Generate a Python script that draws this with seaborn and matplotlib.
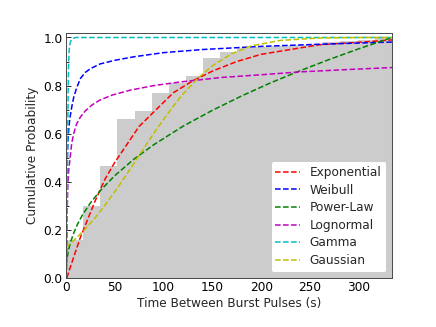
import numpy as np
import pandas as pd
import seaborn as sns
import matplotlib
matplotlib.use('Agg')
import matplotlib.pyplot as plt
from matplotlib.ticker import MultipleLocator

# --- data ---
# cumulative histogram of the observed gaps, 19 equal bins over 0..334 s
x_max = 334.0
n_bins = 19
hist_cdf = [0.159, 0.30, 0.464, 0.659, 0.694, 0.770, 0.81, 0.841, 0.914, 0.941,
            0.955, 0.96, 0.965, 0.97, 0.975, 0.98, 0.985, 0.99, 1.0]

# fitted CDFs
exp_x = [1, 5, 10, 15, 20, 30, 40, 50, 60, 75, 90, 110, 130, 150, 175, 200, 230, 260, 300, 334]
exp_y = [0.0, 0.05, 0.11, 0.17, 0.22, 0.32, 0.41, 0.48, 0.54, 0.63, 0.69, 0.77, 0.82,
         0.86, 0.90, 0.93, 0.95, 0.97, 0.98, 0.99]

weib_x = [0.3, 0.6, 1, 1.5, 2, 3, 4, 6, 8, 11, 15, 20, 25, 35, 50, 70, 100, 140, 200, 260, 334]
weib_y = [0.0, 0.22, 0.40, 0.50, 0.56, 0.62, 0.66, 0.71, 0.75, 0.79, 0.83, 0.855, 0.87,
          0.89, 0.905, 0.92, 0.937, 0.95, 0.963, 0.972, 0.981]

pow_x = [0.5, 1, 2, 3, 5, 8, 12, 17, 25, 35, 50, 70, 90, 120, 150, 180, 210, 240, 270, 300, 334]
pow_y = [0.053, 0.073, 0.10, 0.12, 0.151, 0.186, 0.224, 0.262, 0.311, 0.362, 0.425, 0.495,
         0.554, 0.631, 0.697, 0.757, 0.812, 0.862, 0.909, 0.953, 1.0]

logn_x = [0.3, 0.6, 1, 1.5, 2, 3, 4.4, 6, 8, 11, 15, 20, 27, 35, 47, 66, 90, 117, 160, 200,
          240, 290, 334]
logn_y = [0.0, 0.08, 0.2, 0.3, 0.38, 0.45, 0.50, 0.56, 0.60, 0.64, 0.67, 0.695, 0.72, 0.74,
          0.76, 0.781, 0.80, 0.815, 0.834, 0.845, 0.857, 0.867, 0.875]

gam_x = [0.5, 0.8, 1.1, 1.4, 1.7, 2.0, 2.4, 2.8, 3.3, 4, 5, 6.5, 8, 10, 15, 334]
gam_y = [0.0, 0.02, 0.1, 0.25, 0.45, 0.62, 0.78, 0.88, 0.94, 0.97, 0.985, 0.993, 0.997,
         1.0, 1.0, 1.0]

gaus_x = [0, 10, 20, 30, 40, 50, 60, 70, 80, 90, 100, 110, 120, 135, 150, 170, 190, 220,
          260, 300, 334]
gaus_y = [0.127, 0.163, 0.204, 0.250, 0.302, 0.358, 0.417, 0.478, 0.540, 0.601, 0.659,
          0.714, 0.765, 0.830, 0.882, 0.933, 0.965, 0.988, 0.998, 1.0, 1.0]

fits = [('Exponential', exp_x, exp_y, 'r'),
        ('Weibull', weib_x, weib_y, 'b'),
        ('Power-Law', pow_x, pow_y, 'g'),
        ('Lognormal', logn_x, logn_y, 'm'),
        ('Gamma', gam_x, gam_y, 'c'),
        ('Gaussian', gaus_x, gaus_y, 'y')]

# --- plot ---
sns.set_style('ticks')
plt.rcParams['font.family'] = ['DejaVu Sans']
plt.rcParams['font.size'] = 12

fig = plt.figure(figsize=(6, 4.5), dpi=72.67)
ax = fig.add_axes([0.151, 0.15, 0.748, 0.75])

bw = x_max / n_bins
hist_df = pd.DataFrame({'t': np.arange(n_bins) * bw + bw / 2, 'cdf': hist_cdf})
sns.histplot(data=hist_df, x='t', weights='cdf', binwidth=bw, binrange=(0, x_max),
             element='bars', stat='count', color='#cccccc', alpha=1, linewidth=0, ax=ax)

for name, xs, ys, col in fits:
    sns.lineplot(x=xs, y=ys, color=col, linestyle='--', linewidth=1.5, label=name, ax=ax)

ax.set_xlim(0, x_max)
ax.set_ylim(0, 1.02)
ax.xaxis.set_major_locator(MultipleLocator(50))
ax.xaxis.set_minor_locator(MultipleLocator(25))
ax.yaxis.set_major_locator(MultipleLocator(0.2))
ax.yaxis.set_minor_locator(MultipleLocator(0.1))
ax.tick_params(which='both', direction='in', colors='black', labelsize=12)
ax.tick_params(which='major', length=5, width=0.8)
ax.tick_params(which='minor', length=2.5, width=0.8)
for sp in ax.spines.values():
    sp.set_visible(True)
    sp.set_color('0.3')
    sp.set_linewidth(1.0)

ax.set_xlabel('Time Between Burst Pulses (s)', fontsize=12, labelpad=2)
ax.set_ylabel('Cumulative Probability', fontsize=12, labelpad=4)
ax.legend(loc='lower right', fontsize=12, frameon=True, framealpha=1, labelspacing=0.38)

fig.savefig('out.png', dpi=72.67)
